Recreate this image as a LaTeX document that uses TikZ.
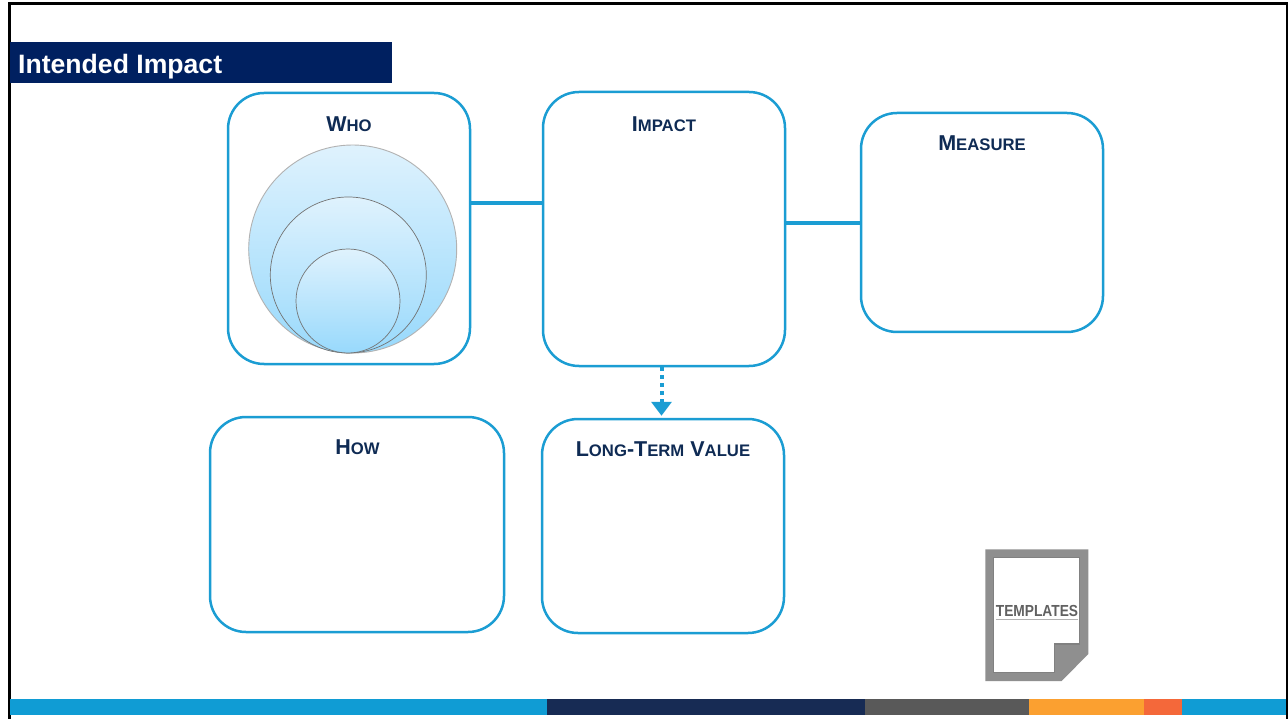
\documentclass[tikz,border=0pt]{standalone}
\usepackage{fontspec}
\setmainfont{Liberation Sans}
\usetikzlibrary{arrows.meta}
\definecolor{boxblue}{HTML}{1B9DD3}
\definecolor{titlenavy}{HTML}{002060}
\definecolor{labelnavy}{HTML}{0F2B54}
\definecolor{logogray}{HTML}{8F8F8F}
\definecolor{balltop}{HTML}{DFF2FD}
\definecolor{ballbottom}{HTML}{98D9FC}
\definecolor{bandblue}{HTML}{109CD4}
\definecolor{bandnavy}{HTML}{172B54}
\definecolor{bandgray}{HTML}{595959}
\definecolor{bandorange}{HTML}{FBA030}
\definecolor{bandred}{HTML}{F4683A}
\newcommand{\capslabel}[2]{\bfseries\fontsize{21.5}{21.5}\selectfont #1\fontsize{16.7}{21.5}\selectfont #2}
\tikzset{
  card/.style={draw=boxblue, line width=2.5pt, rounded corners=36pt, fill=white, inner sep=0pt},
  link/.style={draw=boxblue, line width=3.6pt},
  heading/.style={text=labelnavy, inner sep=0pt},
  ball/.style={circle, inner sep=0pt, top color=balltop, bottom color=ballbottom},
  band/.style={inner sep=0pt, outer sep=0pt, minimum height=16pt, anchor=west}
}
\begin{document}
\begin{tikzpicture}[x=1pt,y=-1pt]
\useasboundingbox (0,0) rectangle (1288,719);
\fill[white] (0,0) rectangle (1288,719);

% frame
\draw[line width=2.6pt] (9.5,719) -- (9.5,3.5) -- (1288,3.5);
\draw[line width=2pt] (1287,3.5) -- (1287,719);

% title
\node[fill=titlenavy, minimum width=382pt, minimum height=41pt, inner sep=0pt, anchor=north west] (titlebar) at (10,42) {};
\node[text=white, anchor=west, inner sep=0pt, font=\bfseries\fontsize{26.6}{26.6}\selectfont] (titletext) at (18,67) {Intended Impact};

% boxes
\node[card, minimum width=242pt, minimum height=271pt] (who) at (349,228.5) {};
\node[card, minimum width=242pt, minimum height=274pt] (impact) at (664,229) {};
\node[card, minimum width=242pt, minimum height=219pt] (measure) at (982,222.5) {};
\node[card, minimum width=294pt, minimum height=215pt] (how) at (357,524.5) {};
\node[card, minimum width=242pt, minimum height=214pt] (value) at (663,526) {};

% circles
\node[ball, draw=gray!60, line width=0.9pt, minimum size=208pt] (outer) at (352.7,249) {};
\node[ball, draw=gray!90!black, line width=0.7pt, minimum size=156pt] (middle) at (348.3,275) {};
\node[ball, draw=gray!90!black, line width=0.7pt, minimum size=104pt] (inner) at (348,301) {};

% headings
\node[heading] (whotext) at (349,124.5) {\capslabel{W}{HO}};
\node[heading] (impacttext) at (664,124) {\capslabel{I}{MPACT}};
\node[heading] (measuretext) at (982,143) {\capslabel{M}{EASURE}};
\node[heading] (howtext) at (357.5,447) {\capslabel{H}{OW}};
\node[heading] (valuetext) at (663,449.5) {\capslabel{L}{ONG}\capslabel{-T}{ERM}\capslabel{ V}{ALUE}};

% connectors
\draw[link] ([yshift=25.5pt]who.east) -- ([yshift=26pt]impact.west);
\draw[link] ([yshift=-0.5pt]impact.east |- measure.west) -- ([yshift=-0.5pt]measure.west);
\draw[boxblue, line width=4pt, dash pattern=on 4pt off 4pt, -{Triangle[width=20pt,length=14pt]}]
  ([xshift=-2.5pt]impact.south) -- ([xshift=-1.5pt,yshift=2pt]value.north);

% bottom band
\node[band, fill=bandblue, minimum width=537pt] (band1) at (10,707) {};
\node[band, fill=bandnavy, minimum width=318pt] (band2) at (band1.east) {};
\node[band, fill=bandgray, minimum width=164pt] (band3) at (band2.east) {};
\node[band, fill=bandorange, minimum width=115pt] (band4) at (band3.east) {};
\node[band, fill=bandred, minimum width=38pt] (band5) at (band4.east) {};
\node[band, fill=bandblue, minimum width=104pt] (band6) at (band5.east) {};

% logo
\fill[logogray] (985.3,549.3) -- (1088.3,549.3) -- (1088.3,654) -- (1061.7,681) -- (985.3,681) -- cycle;
\fill[white, draw=logogray!90!black, line width=1.2pt] (993.7,557.3) -- (1079.3,557.3) -- (1079.3,644) -- (1054.3,644) -- (1054.3,672.7) -- (993.7,672.7) -- cycle;
\draw[gray!60, line width=1pt] (996,619) -- (1078,619);
\node[text=black!62, inner sep=0pt, xscale=0.86, font=\bfseries\fontsize{16}{16}\selectfont] (logotext) at (1037,610.5) {TEMPLATES};
\end{tikzpicture}
\end{document}
